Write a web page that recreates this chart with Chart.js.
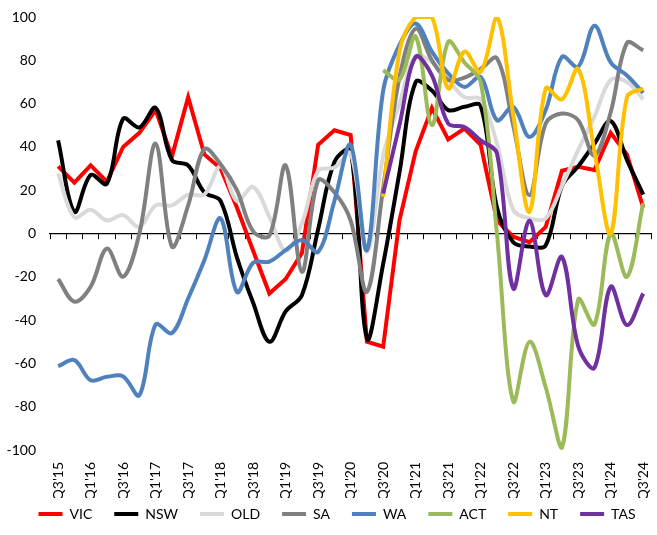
<!DOCTYPE html>
<html>
<head>
<meta charset="utf-8">
<script src="https://cdn.jsdelivr.net/npm/chart.js@4.4.1/dist/chart.umd.min.js"></script>
<style>
  html, body { margin: 0; padding: 0; background: #fff; overflow: hidden; }
  #wrap { width: 660px; height: 535px; position: relative; }
</style>
</head>
<body>
<div id="wrap"><canvas id="chart"></canvas></div>
<script>
// Quarterly categories, Q3'15 to Q3'24
const quarters = [
  "Q3'15", "Q4'15", "Q1'16", "Q2'16", "Q3'16", "Q4'16", "Q1'17", "Q2'17", "Q3'17", "Q4'17",
  "Q1'18", "Q2'18", "Q3'18", "Q4'18", "Q1'19", "Q2'19", "Q3'19", "Q4'19", "Q1'20", "Q2'20",
  "Q3'20", "Q4'20", "Q1'21", "Q2'21", "Q3'21", "Q4'21", "Q1'22", "Q2'22", "Q3'22", "Q4'22",
  "Q1'23", "Q2'23", "Q3'23", "Q4'23", "Q1'24", "Q2'24", "Q3'24"
];

// Net balance by state / territory
const vic = [31, 23.5, 31.5, 24, 40, 46.5, 57, 35.5, 63, 36.5,
             30, 12, -8, -27.7, -21, -9, 41, 47.7, 45.5, -50,
             -52.3, 6, 38, 58, 43.5, 48.5, 41, 6, -1.5, -4,
             3, 29, 30.8, 29.3, 46.5, 36.5, 12];
const nsw = [43, 10, 27, 23, 53, 49, 58, 34, 31.5, 19,
             15, -11, -32, -50, -36, -28.5, 2, 33, 38.5, -48.5,
             -14, 28, 70, 66, 57, 58.5, 59, 12, -4, -6,
             -5.5, 22, 31, 41.5, 52, 34, 18];
const old = [27.7, 7.5, 11, 6, 8.5, 3, 13, 13, 18, 18,
             31, 15, 21.5, 7.7, -8, 4.6, 29, 30.5, 37, -8.5,
             36, 60, 82, 79, 71, 63, 62, 41.5, 11, 7,
             7, 22, 38.5, 54, 71, 70, 62];
const sa  = [-21, -31.5, -24.6, -7, -20, 0, 41.5, -6, 13, 39,
             32, 20, 1, -1, 31.5, -17.7, 24.6, 19, 6, -27,
             21, 72, 94.7, 80, 71, 72, 76, 81, 50, 17.7,
             50.8, 55.4, 52.3, 36, 56, 88, 84.6];
const wa  = [-61.3, -58.5, -67.8, -66.2, -66, -74.7, -42, -46, -30, -12.3,
             7, -27, -13.5, -13, -7.7, -3, -8.5, 15, 41, -7.7,
             66, 87, 97, 84, 74, 67.7, 72.3, 52.3, 58.5, 44.6,
             57, 81.6, 77, 96, 79, 73, 65];
const act = [null, null, null, null, null, null, null, null, null, null,
             null, null, null, null, null, null, null, null, null, null,
             75.4, 71, 91, 50, 88.5, 79, 70, 0, -77.5, -50,
             -71, -99, -30.5, -42, 0, -20, 14];
const nt  = [null, null, null, null, null, null, null, null, null, null,
             null, null, null, null, null, null, null, null, null, null,
             17, 84, 100, 100, 67, 84, 74.6, 100, 55, 10,
             67, 62, 76, 38, 0, 63, 67];
const tas = [null, null, null, null, null, null, null, null, null, null,
             null, null, null, null, null, null, null, null, null, null,
             18.5, 50, 81.6, 73, 50.8, 49.2, 43, 37, -25.4, 6,
             -28.5, -10.8, -52, -62, -24.6, -42.3, -27.7];

const seriesNames = ['VIC', 'NSW', 'OLD', 'SA', 'WA', 'ACT', 'NT', 'TAS'];
const seriesData = [vic, nsw, old, sa, wa, act, nt, tas];
const seriesColors = ['#ff0000', '#000000', '#d9d9d9', '#808080', '#4f81bd', '#9bbb59', '#ffc000', '#7030a0'];
// VIC is drawn with straight segments, the rest are smoothed
const seriesTension = [0, 0.35, 0.35, 0.35, 0.35, 0.35, 0.35, 0.35];

const yTicks = { min: -100, max: 100, step: 20 };

const tickFont = { family: 'Lato, "Open Sans", sans-serif', size: 14 };
const legendFont = { family: 'Lato, sans-serif', size: 14 };

const datasets = seriesNames.map((name, i) => ({
  label: name,
  data: seriesData[i],
  borderColor: seriesColors[i],
  backgroundColor: seriesColors[i],
  borderWidth: 4,
  pointRadius: 0,
  pointHoverRadius: 0,
  tension: seriesTension[i],
  fill: false,
  // later series sit on top of earlier ones
  order: seriesNames.length - i
}));

// The legend row sits partly alongside the rotated quarter labels
const legendNudge = {
  id: 'legendNudge',
  afterLayout(chart) {
    const lg = chart.legend;
    if (!lg) return;
    lg.top -= 13; lg.bottom -= 13;
    lg.left += 7; lg.right += 7;
  }
};

new Chart(document.getElementById('chart'), {
  type: 'line',
  data: { labels: quarters, datasets },
  plugins: [legendNudge],
  options: {
    responsive: true,
    maintainAspectRatio: false,
    animation: false,
    layout: { padding: { top: 17, left: 0, right: 0, bottom: 0 } },
    plugins: {
      tooltip: { enabled: false },
      legend: {
        position: 'bottom',
        maxHeight: 37,
        labels: {
          usePointStyle: true,
          pointStyle: 'line',
          pointStyleWidth: 24,
          boxHeight: 4,
          padding: 22,
          color: '#000',
          font: legendFont,
          sort: (a, b) => a.datasetIndex - b.datasetIndex
        }
      }
    },
    scales: {
      x: {
        type: 'category',
        position: 'bottom',
        offset: true,
        grid: { display: false, drawTicks: true, tickLength: 12 },
        border: { display: false },
        ticks: {
          autoSkip: false,
          minRotation: 90,
          maxRotation: 90,
          padding: 0,
          color: '#000',
          font: tickFont,
          callback: function (value, index) {
            return index % 2 === 0 ? this.getLabelForValue(value) : '';
          }
        },
        afterFit: (scale) => { scale.height = 48; }
      },
      // horizontal axis line drawn through zero, with a tick at each quarter boundary
      xZero: {
        type: 'category',
        position: { y: 0 },
        offset: true,
        grid: {
          display: true,
          offset: true,
          drawOnChartArea: false,
          drawTicks: true,
          tickLength: 5,
          tickWidth: 1,
          color: '#000'
        },
        border: { display: true, color: '#000', width: 1.2 },
        ticks: { display: false, padding: 0 }
      },
      y: {
        min: yTicks.min,
        max: yTicks.max,
        grid: { display: false, drawTicks: true, tickLength: 14 },
        border: { display: false },
        ticks: {
          stepSize: yTicks.step,
          padding: 0,
          color: '#000',
          font: tickFont
        },
        afterFit: (scale) => { scale.width = 50; }
      }
    }
  }
});
</script>
</body>
</html>
